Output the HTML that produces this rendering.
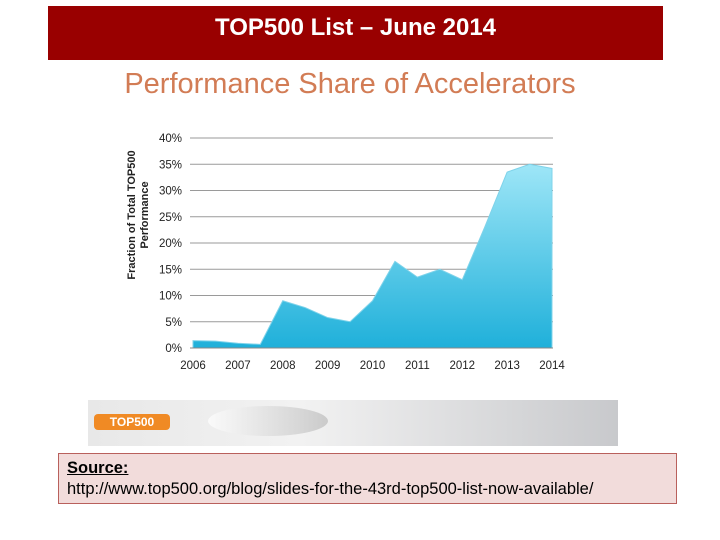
<!DOCTYPE html>
<html><head><meta charset="utf-8"><style>
body{margin:0;width:720px;height:540px;background:#fff;position:relative;overflow:hidden;font-family:"Liberation Sans",sans-serif}
#title{position:absolute;left:48px;top:6px;width:615px;height:54px;background:#990000;color:#fff;font-size:24px;font-weight:bold;text-align:center;line-height:44px}
#sub{position:absolute;left:60px;width:580px;top:68px;text-align:center;color:#d27c55;font-size:29px}
#banner{position:absolute;left:88px;top:400px;width:530px;height:46px;background:linear-gradient(90deg,#e8e8e8,#f2f2f2 40%,#c8c9cc)}
#src{position:absolute;left:58px;top:453px;background:#f2dcdb;border:1px solid #b9605c;font-size:16.5px;line-height:21px;padding:4px 0 0 8px;box-sizing:border-box;width:619px;height:51px}
</style></head><body>
<div id="title">TOP500 List – June 2014</div>
<div id="sub">Performance Share of Accelerators</div>
<svg id="chart" width="720" height="400" style="position:absolute;left:0;top:0">
<defs><linearGradient id="g" x1="0" y1="0" x2="0" y2="1"><stop offset="0" stop-color="#9ee6f7"/><stop offset="1" stop-color="#1fb0da"/></linearGradient></defs>
<g id="grid"></g><g id="area"></g><g id="labels"></g>
<text transform="translate(135,215) rotate(-90)" text-anchor="middle" font-size="11" font-weight="bold" fill="#222">Fraction of Total TOP500</text>
<text transform="translate(148,215) rotate(-90)" text-anchor="middle" font-size="11" font-weight="bold" fill="#222">Performance</text>
</svg>
<div id="banner">
<div style="position:absolute;left:6px;top:14px;width:76px;height:16px;background:#f08a24;border-radius:4px;color:#fff;font-weight:bold;font-size:12px;text-align:center;line-height:16px">TOP500</div>
<div style="position:absolute;left:120px;top:6px;width:120px;height:30px;border-radius:50%;background:linear-gradient(90deg,#fff,#bbb);opacity:.7"></div>
</div>
<div id="src"><u><b>Source:</b></u><br>http://www.top500.org/blog/slides-for-the-43rd-top500-list-now-available/</div>
<script>
const years=[2006,2006.5,2007,2007.5,2008,2008.5,2009,2009.5,2010,2010.5,2011,2011.5,2012,2012.5,2013,2013.5,2014];
const shares=[1.4,1.3,0.9,0.7,9.0,7.7,5.8,5.0,9.0,16.5,13.5,15.0,13.0,23.0,33.5,35.0,34.2];
const yTicks=[0,5,10,15,20,25,30,35,40];
const xTicks=[2006,2007,2008,2009,2010,2011,2012,2013,2014];
const NS='http://www.w3.org/2000/svg';
const x=v=>193+(v-2006)*(552-193)/8;
const y=v=>348-v*(210/40);
function mk(t,a,p){const e=document.createElementNS(NS,t);for(const k in a)e.setAttribute(k,a[k]);p.appendChild(e);return e;}
const grid=document.getElementById('grid'),lab=document.getElementById('labels'),ar=document.getElementById('area');
yTicks.forEach(t=>{
 const l=mk('line',{x1:190,x2:553,y1:y(t),y2:y(t),stroke:'#9a9a9a','stroke-width':1},grid);
 
 
 const tx=mk('text',{x:182,y:y(t)+4,'text-anchor':'end','font-size':11.5,fill:'#222'},lab);tx.textContent=t+'%';
 
 
});
xTicks.forEach(t=>{
 const tx=mk('text',{x:x(t),y:369,'text-anchor':'middle','font-size':11.5,fill:'#222'},lab);tx.textContent=t;
 
 
});
let d='M'+x(years[0])+','+y(0);
years.forEach((v,i)=>d+=' L'+x(v)+','+y(shares[i]));
d+=' L'+x(years[years.length-1])+','+y(0)+'Z';
const p=mk('path',{d:d,fill:'url(#g)',stroke:'#7fd3ea','stroke-width':1},ar);


const ax=mk('line',{x1:190,x2:553,y1:y(0),y2:y(0),stroke:'#888'},ar);


</script>
</body></html>
